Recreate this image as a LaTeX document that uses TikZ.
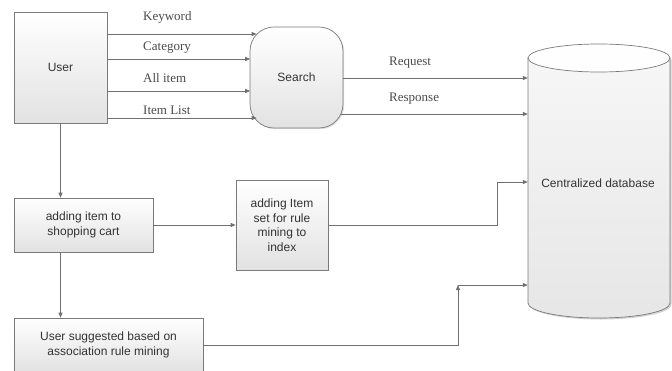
\documentclass[tikz,border=0pt]{standalone}
\usepackage{fontspec}
\setmainfont{Liberation Sans}
\newfontfamily\lblfont{Liberation Serif}
\usetikzlibrary{arrows.meta,calc,shadows}

\definecolor{edgegray}{HTML}{7A7A7A}
\definecolor{wiregray}{HTML}{707070}
\definecolor{fillgray}{HTML}{E2E2E2}
\definecolor{inkgray}{HTML}{333333}
\definecolor{lblgray}{HTML}{4A4A4A}

\begin{document}
\begin{tikzpicture}[x=1pt,y=-1pt,
  procbox/.style={draw=edgegray, line width=0.7pt, top color=white, bottom color=fillgray,
    text=inkgray, align=center, inner sep=0pt,
    font=\fontsize{12}{14.5}\selectfont,
    drop shadow={shadow xshift=1.2pt, shadow yshift=-1.2pt, opacity=0.25}},
  flow/.style={draw=wiregray, line width=0.8pt,
    -{Triangle[length=5pt,width=4pt]}},
  flowlabel/.style={anchor=west, text=lblgray, inner sep=0pt,
    font=\lblfont\fontsize{13}{15}\selectfont}]

\useasboundingbox (0,0) rectangle (672,370);

% process boxes
\node[procbox, minimum width=93pt, minimum height=111pt] (user) at (60.5,67.5) {User};
\node[procbox, minimum width=93pt, minimum height=101pt, rounded corners=24pt] (search) at (296.5,77.5) {Search};
\node[procbox, minimum width=139pt, minimum height=54pt] (cart) at (83.5,225) {adding item to\\shopping cart};
\node[procbox, minimum width=92pt, minimum height=90pt] (itemset) at (282,225) {adding Item\\set for rule\\mining to\\index};
\node[procbox, minimum width=189pt, minimum height=54pt] (suggest) at (108.5,345) {User suggested based on\\association rule mining};

% centralized database (cylinder)
\node[minimum width=142pt, minimum height=274pt, inner sep=0pt] (db) at (599,181) {};
\fill[black, opacity=0.18] (529.5,59.5) -- (529.5,304.5) arc[start angle=180, end angle=360, x radius=71, y radius=-15] -- (671.5,59.5) -- cycle;
\path[draw=edgegray, line width=0.7pt, top color=white!70!fillgray, bottom color=fillgray!85]
  (528,58) -- (528,303) arc[start angle=180, end angle=360, x radius=71, y radius=-15] -- (670,58) -- cycle;
\draw[edgegray, line width=0.7pt, fill=white!96!fillgray] (599,58) ellipse[x radius=71, y radius=14];
\node[text=inkgray, font=\fontsize{12}{14.5}\selectfont] (dbtext) at (598,183) {Centralized database};

% helper coordinates
\coordinate (kw) at (0,34);
\coordinate (cat) at (0,59);
\coordinate (all) at (0,91);
\coordinate (lst) at (0,118);
\coordinate (req) at (0,78);
\coordinate (resp) at (0,114);
\coordinate (bendA) at (497,182);
\coordinate (bendB) at (458,285);

% user -> search
\draw[flow] (user.east |- kw) -- ($(search.west |- kw)+(7,0)$);
\draw[flow] (user.east |- cat) -- ($(search.west |- cat)+(0.5,0)$);
\draw[flow] (user.east |- all) -- ($(search.west |- all)+(0.5,0)$);
\draw[flow] (user.east |- lst) -- ($(search.west |- lst)+(7,0)$);
\node[flowlabel] (lkw) at (143,17) {Keyword};
\node[flowlabel] (lcat) at (143,48) {Category};
\node[flowlabel] (lall) at (143,78) {All item};
\node[flowlabel] (llst) at (143,110) {Item List};

% search -> database
\draw[flow] (search.east |- req) -- (db.west |- req);
\draw[flow] ($(search.east |- resp)+(-2,0)$) -- (db.west |- resp);
\node[flowlabel] (lreq) at (389,63) {Request};
\node[flowlabel] (lresp) at (389,99) {Response};

% lower flow
\draw[flow] (user.south -| cart.north) ++(-23,0) -- ($(cart.north)+(-23,0)$);
\draw[flow] ($(cart.south)+(-23,0)$) -- ($(cart.south |- suggest.north)+(-23,0)$);
\draw[flow] (cart.east) -- (itemset.west);
\draw[flow] (itemset.east) -| (bendA) -- (db.west |- bendA);
\draw[flow] (suggest.east) -| (bendB);
\draw[flow] (bendB) -- (db.west |- bendB);

\end{tikzpicture}
\end{document}
